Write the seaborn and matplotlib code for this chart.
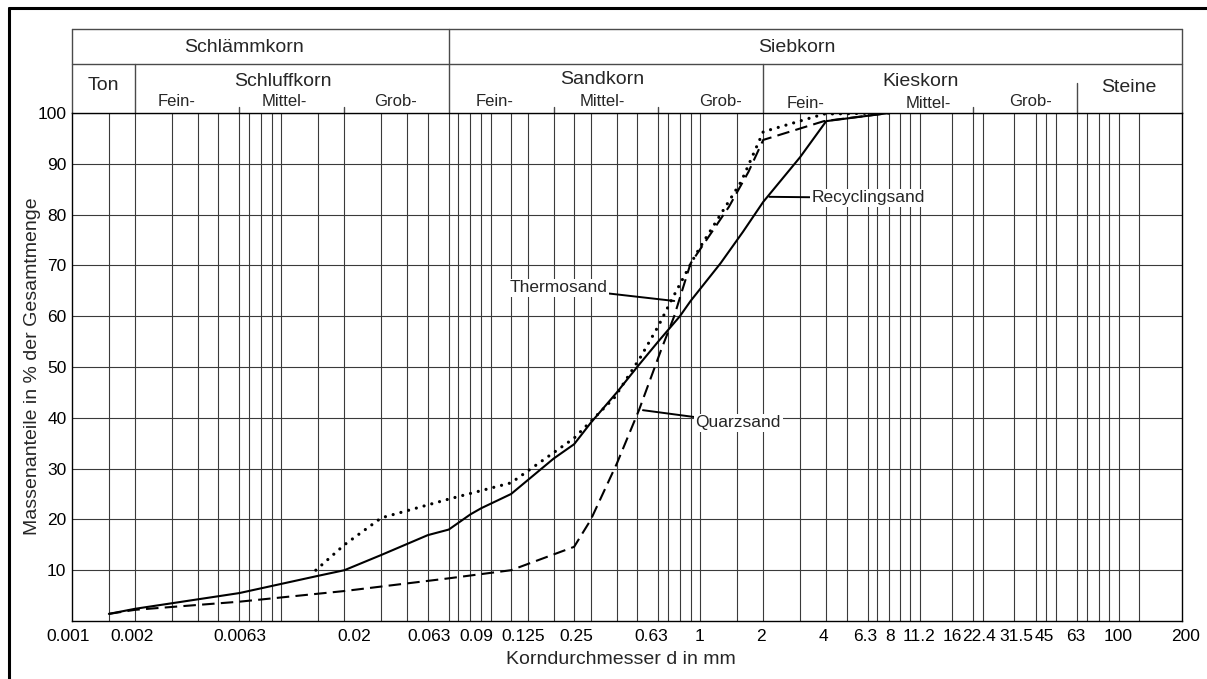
import matplotlib
matplotlib.use("Agg")
import numpy as np
import pandas as pd
import seaborn as sns
import matplotlib.pyplot as plt
import matplotlib.transforms as mtransforms
from matplotlib.lines import Line2D
from matplotlib.ticker import FixedLocator, FixedFormatter, NullFormatter

# ---------------- data ----------------
recycling_d = [0.0015, 0.002, 0.0063, 0.015, 0.02, 0.03, 0.05, 0.063, 0.071, 0.08, 0.09,
               0.125, 0.2, 0.25, 0.3, 0.4, 0.5, 0.63, 0.8, 0.9, 1.25, 1.6, 2, 3, 4, 8]
recycling_pct = [1.4, 2.4, 5.5, 8.9, 10, 13, 16.9, 18, 19.5, 21, 22.2,
                 25, 32, 34.8, 39, 45, 50, 55, 60, 63, 70.4, 76.6, 82.5, 91.3, 98.4, 100]

thermo_d = [0.0146, 0.02, 0.03, 0.063, 0.125, 0.25, 0.39, 0.52, 0.63, 0.73, 0.94, 1,
            1.57, 2, 3.9, 8]
thermo_pct = [10, 15, 20.3, 24, 27.2, 36, 44, 52, 58, 63.2, 71.7, 73.6,
              86.5, 96.3, 99.8, 100]

quarz_d = [0.0015, 0.002, 0.0063, 0.02, 0.063, 0.125, 0.25, 0.3, 0.4, 0.51, 0.65, 0.75,
           0.9, 1.37, 1.7, 2, 3.9, 8]
quarz_pct = [1.4, 2.2, 3.8, 5.9, 8.4, 10, 14.6, 19.9, 31, 41.5, 53.3, 59.9,
             70.4, 81.5, 88.4, 94.7, 98.4, 100]

tick_values = [0.001, 0.002, 0.0063, 0.02, 0.063, 0.09, 0.125, 0.25, 0.63, 1, 2, 4, 6.3, 8,
               11.2, 16, 22.4, 31.5, 45, 63, 100, 200]
tick_labels = ["0.001", "0.002", "0.0063", "0.02", "0.063", "0.09", "0.125", "0.25", "0.63",
               "1", "2", "4", "6.3", "8", "11.2", "16", "22.4", "31.5", "45", "63", "100", "200"]
# horizontal nudges of the tick labels (pixels), as in the reference
tick_label_shift = [-4, -3, 0, 10, -20, -5, 12, 2, -7, -1, -2, -3, -2, 1,
                    -1, 0, -4, 2, -2, -1, -1, 4]
grid_values = [0.0015, 0.002, 0.003, 0.004, 0.005, 0.0063, 0.007, 0.008, 0.009, 0.01, 0.015,
               0.02, 0.03, 0.04, 0.05, 0.063, 0.07, 0.08, 0.09, 0.1, 0.125, 0.15, 0.2, 0.25,
               0.3, 0.4, 0.5, 0.63, 0.7, 0.8, 0.9, 1, 1.5, 2, 3, 4, 5, 6.3, 7, 8, 9, 10, 11.2,
               16, 20, 22.4, 31.5, 40, 45, 50, 63, 70, 80, 90, 100, 125]
y_ticks = [10, 20, 30, 40, 50, 60, 70, 80, 90, 100]

# ---------------- style ----------------
sns.set_style("white")
plt.rcParams["font.family"] = ["Liberation Sans", "DejaVu Sans"]

W, H = 1207, 679
fig = plt.figure(figsize=(W / 100, H / 100), dpi=100)
ax = fig.add_axes([72 / W, (H - 621) / H, 1110 / W, 508 / H])

ax.set_xscale("log")
ax.set_xlim(0.001, 200)
ax.set_ylim(0, 100)

# grid
for g in grid_values:
    ax.axvline(g, color="#3a3a3a", lw=0.8, zorder=0)
for yv in y_ticks:
    ax.axhline(yv, color="#3a3a3a", lw=0.8, zorder=0)

# curves
sns.lineplot(x=recycling_d, y=recycling_pct, ax=ax, color="black", lw=1.5,
             estimator=None, sort=False, zorder=3)
sns.lineplot(x=thermo_d, y=thermo_pct, ax=ax, color="black", lw=2.3,
             linestyle=(0, (0.01, 2.5)), dash_capstyle="round",
             estimator=None, sort=False, zorder=3)
sns.lineplot(x=quarz_d, y=quarz_pct, ax=ax, color="black", lw=1.5,
             linestyle=(0, (6, 3)), estimator=None, sort=False, zorder=3)

# ticks
ax.xaxis.set_major_locator(FixedLocator(tick_values))
ax.xaxis.set_major_formatter(FixedFormatter(tick_labels))
ax.xaxis.set_minor_locator(FixedLocator([]))
ax.xaxis.set_minor_formatter(NullFormatter())
ax.set_yticks(y_ticks)
ax.set_yticklabels([str(v) for v in y_ticks])
ax.tick_params(axis="x", length=0, pad=6, labelsize=12.5, colors="black")
ax.tick_params(axis="y", length=0, pad=4, labelsize=12.5, colors="black")
ax.set_xlabel("")
ax.set_ylabel("")
for s in ax.spines.values():
    s.set_color("black")
    s.set_linewidth(1.0)

for lab, dx in zip(ax.get_xticklabels(), tick_label_shift):
    lab.set_transform(lab.get_transform() +
                      mtransforms.ScaledTranslation(dx / 100, 0, fig.dpi_scale_trans))

# annotations
bb = dict(boxstyle="square,pad=0.1", fc="white", ec="none")
ap = dict(arrowstyle="-", color="black", lw=1.4, shrinkA=0, shrinkB=0)
ax.annotate("Recyclingsand", xy=(2.14, 83.5), xytext=(3.4, 83.3), ha="left", va="center",
            fontsize=12.5, bbox=bb, arrowprops=ap, zorder=5)
ax.annotate("Thermosand", xy=(0.752, 63), xytext=(0.36, 65.6), ha="right", va="center",
            fontsize=12.5, bbox=bb, arrowprops=ap, zorder=5)
ax.annotate("Quarzsand", xy=(0.533, 41.5), xytext=(0.95, 39), ha="left", va="center",
            fontsize=12.5, bbox=bb, arrowprops=ap, zorder=5)

# header table
tr = mtransforms.blended_transform_factory(ax.transData, ax.transAxes)
top_y = (621 - 29) / 508
mid_y = (621 - 64) / 508
hdr = dict(color="#4a4a4a", lw=1.0, transform=tr, clip_on=False)
ax.add_line(Line2D([0.001, 200], [top_y, top_y], **hdr))
ax.add_line(Line2D([0.001, 200], [mid_y, mid_y], **hdr))
for xv in [0.001, 0.063, 200]:
    ax.add_line(Line2D([xv, xv], [1, top_y], **hdr))
for xv in [0.002, 2]:
    ax.add_line(Line2D([xv, xv], [1, mid_y], **hdr))
ax.add_line(Line2D([63, 63], [1, (621 - 83) / 508], **hdr))
for xv in [0.0063, 0.02, 0.2, 0.63, 20]:
    ax.add_line(Line2D([xv, xv], [1, (621 - 107) / 508], **hdr))

def ftext(px, py, s, size, **kw):
    fig.text(px / W, 1 - py / H, s, ha="center", va="center", fontsize=size, **kw)

ftext(244, 47, "Schlämmkorn", 14)
ftext(797, 47, "Siebkorn", 14)
ftext(103, 85, "Ton", 14)
ftext(283, 82, "Schluffkorn", 14)
ftext(177, 101, "Fein-", 12)
ftext(284, 101, "Mittel-", 12)
ftext(396, 101, "Grob-", 12)
ftext(602, 80, "Sandkorn", 14)
ftext(495, 101, "Fein-", 12)
ftext(602, 101, "Mittel-", 12)
ftext(720, 101, "Grob-", 12)
ftext(921, 81, "Kieskorn", 14)
ftext(806, 103, "Fein-", 12)
ftext(928, 103, "Mittel-", 12)
ftext(1031, 101, "Grob-", 12)
ftext(1129, 87, "Steine", 14)

ftext(621, 660, "Korndurchmesser d in mm", 14)
ftext(33, 366, "Massenanteile in % der Gesamtmenge", 14, rotation=90)

# outer frame (top and left edges visible)
fig.add_artist(Line2D([9 / W, 9 / W], [0, 1 - 8 / H], transform=fig.transFigure,
                      color="black", lw=2.2))
fig.add_artist(Line2D([9 / W, 1], [1 - 8 / H, 1 - 8 / H], transform=fig.transFigure,
                      color="black", lw=2.2))

fig.savefig("out.png", dpi=100)
